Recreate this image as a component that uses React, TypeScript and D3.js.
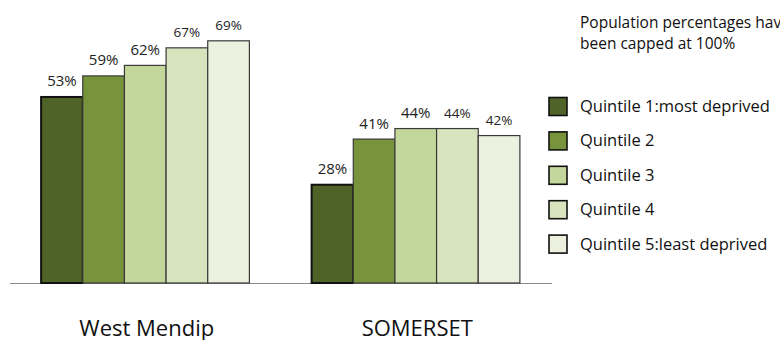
import { useEffect, useRef } from "react";
import * as d3 from "d3";

const categories = ["West Mendip", "SOMERSET"];
const quintiles = [
  "Quintile 1:most deprived",
  "Quintile 2",
  "Quintile 3",
  "Quintile 4",
  "Quintile 5:least deprived",
];
const westMendip = [53, 59, 62, 67, 69];
const somerset = [28, 41, 44, 44, 42];
const colors = ["#4f6228", "#77933c", "#c3d69b", "#d7e4bd", "#ebf1de"];
const labelSizes = [15, 15, 15, 13.5, 13.5];
const note = ["Population percentages have", "been capped at 100%"];

const App: React.FC = () => {
  const svgRef = useRef<SVGSVGElement>(null);

  useEffect(() => {
    const svg = d3.select(svgRef.current);
    svg.selectAll("*").remove();

    const font = "'Open Sans', sans-serif";
    const series = [westMendip, somerset];
    const baseline = 283;

    const x0 = d3.scaleBand().domain(categories).range([10, 551]).paddingInner(0.23).paddingOuter(0.115);
    const x1 = d3.scaleBand().domain(quintiles).range([0, x0.bandwidth()]);
    const y = d3.scaleLinear().domain([0, 80]).range([baseline, baseline - 80 * 3.51]);

    // axis line
    svg.append("line").attr("x1", 10).attr("x2", 552).attr("y1", baseline + 0.5).attr("y2", baseline + 0.5)
      .attr("stroke", "#8c8c8c").attr("stroke-width", 1);

    categories.forEach((cat, ci) => {
      const g = svg.append("g").attr("transform", `translate(${x0(cat)},0)`);
      const vals = series[ci];
      g.selectAll("rect").data(vals).join("rect")
        .attr("x", (_, i) => x1(quintiles[i]) as number)
        .attr("y", (d) => y(d))
        .attr("width", x1.bandwidth())
        .attr("height", (d) => baseline - y(d))
        .attr("fill", (_, i) => colors[i])
        .attr("stroke", (_, i) => (i === 0 ? "#111" : "#3a3a3a"))
        .attr("stroke-width", (_, i) => (i === 0 ? 2 : 1.2));
      g.selectAll("text.val").data(vals).join("text").attr("class", "val")
        .attr("x", (_, i) => (x1(quintiles[i]) as number) + x1.bandwidth() / 2)
        .attr("y", (d) => y(d) - 10.5)
        .attr("text-anchor", "middle")
        .attr("font-family", font)
        .attr("font-size", (_, i) => labelSizes[i])
        .attr("fill", "#222")
        .text((d) => `${d}%`);
      svg.append("text")
        .attr("x", (x0(cat) as number) + x0.bandwidth() / 2 + 1.5)
        .attr("y", 335.5)
        .attr("text-anchor", "middle")
        .attr("font-family", font)
        .attr("font-size", 22)
        .attr("fill", "#111")
        .text(cat);
    });

    // note (runs off the right edge, as in the original)
    svg.selectAll("text.note").data(note).join("text").attr("class", "note")
      .attr("x", 580).attr("y", (_, i) => 28 + i * 20.5)
      .attr("font-family", font).attr("font-size", 15.5).attr("fill", "#111")
      .text((d) => d);

    // legend
    const legend = svg.append("g").attr("transform", "translate(549,0)");
    const ly = (i: number) => 106.5 + i * 34.4;
    legend.selectAll("rect").data(quintiles).join("rect")
      .attr("x", 0).attr("y", (_, i) => ly(i) - 9)
      .attr("width", 18).attr("height", 18)
      .attr("fill", (_, i) => colors[i])
      .attr("stroke", "#111").attr("stroke-width", 1.6);
    legend.selectAll("text").data(quintiles).join("text")
      .attr("x", 31).attr("y", (_, i) => ly(i) + 5.5)
      .attr("font-family", font).attr("font-size", 16.5).attr("fill", "#111")
      .text((d) => d);
  }, []);

  return (
    <svg ref={svgRef} width={780} height={340} style={{ position: "absolute", left: 0, top: 0, background: "#fff" }}></svg>
  );
};

export default App;
